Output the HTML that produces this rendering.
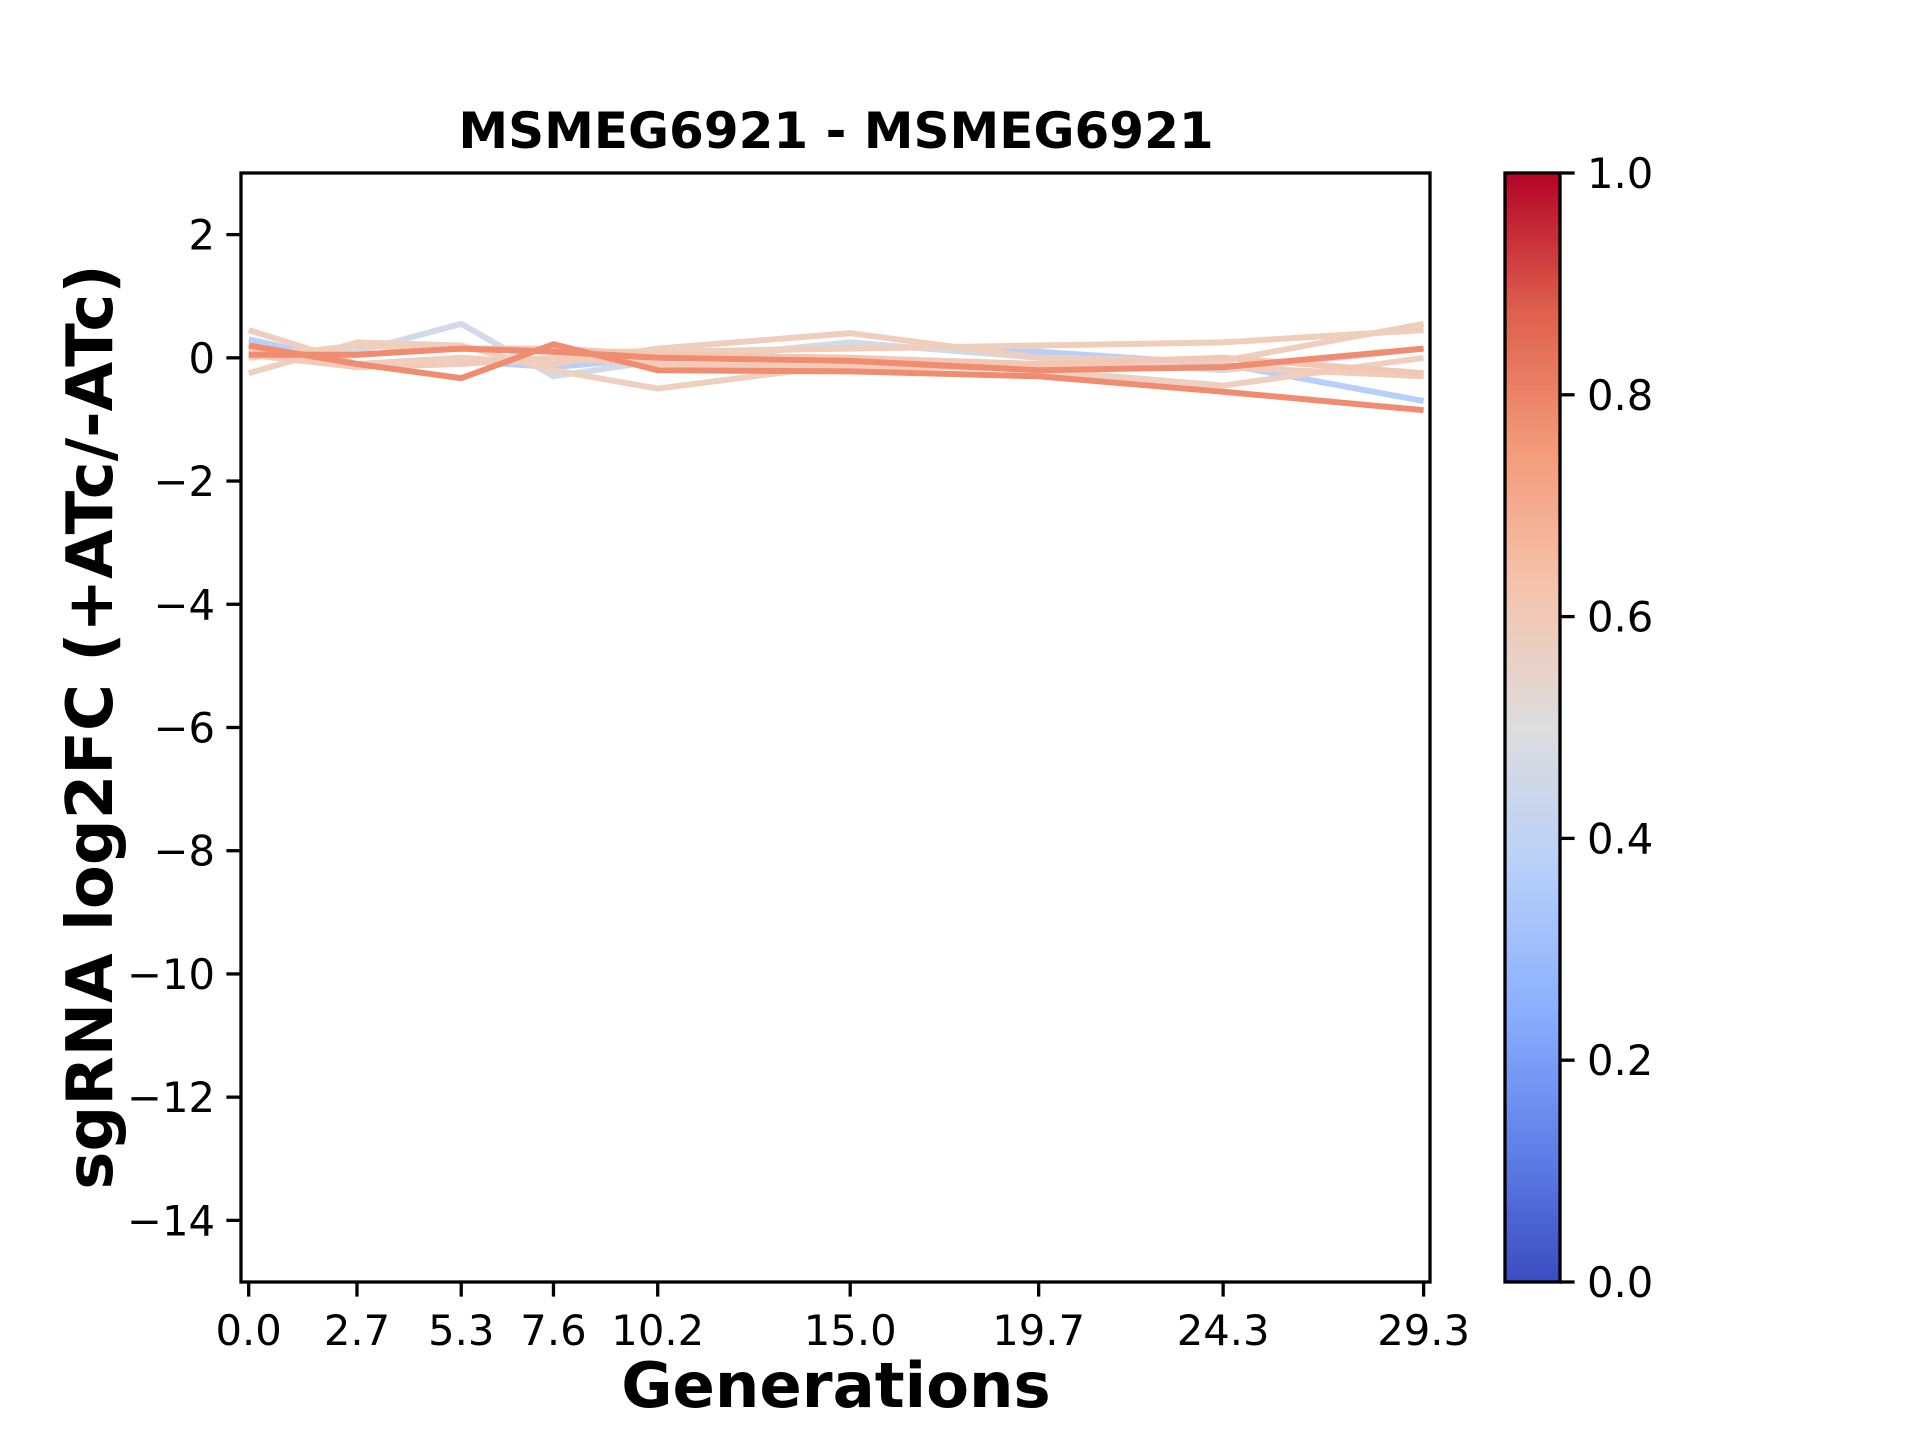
<!DOCTYPE html>
<html><head><meta charset="utf-8"><style>html,body{margin:0;padding:0;background:#fff}svg{display:block}</style></head>
<body>
<svg id="s" width="1920" height="1440" viewBox="0 0 1920 1440" xmlns="http://www.w3.org/2000/svg" font-family="DejaVu Sans, Liberation Sans, sans-serif">
<defs>
<linearGradient id="cw" x1="0" y1="1" x2="0" y2="0">
<stop offset="0" stop-color="rgb(59,76,192)"/>
<stop offset="0.125" stop-color="rgb(98,130,234)"/>
<stop offset="0.25" stop-color="rgb(141,176,254)"/>
<stop offset="0.375" stop-color="rgb(184,208,249)"/>
<stop offset="0.5" stop-color="rgb(221,221,221)"/>
<stop offset="0.625" stop-color="rgb(245,196,173)"/>
<stop offset="0.75" stop-color="rgb(244,154,123)"/>
<stop offset="0.875" stop-color="rgb(222,96,77)"/>
<stop offset="1" stop-color="rgb(180,4,38)"/>
</linearGradient>
<clipPath id="ax"><rect x="241" y="173" width="1189" height="1109"/></clipPath>
</defs>
<g id="lines" clip-path="url(#ax)" fill="none" stroke-width="6" stroke-linejoin="miter"></g>
<rect x="241" y="173" width="1189" height="1109" fill="none" stroke="#000" stroke-width="3.3"/>
<g id="ticks" stroke="#000" stroke-width="3.3"></g>
<g id="labels" font-size="41.7" fill="#000"></g>
<rect x="1505" y="173" width="55" height="1109" fill="url(#cw)" stroke="#000" stroke-width="3.3"/>
<text x="836" y="148" font-size="50" font-weight="bold" text-anchor="middle">MSMEG6921 - MSMEG6921</text>
<text x="836" y="1407" font-size="62.5" font-weight="bold" text-anchor="middle">Generations</text>
<text transform="translate(112,727) rotate(-90)" font-size="64" font-weight="bold" text-anchor="middle">sgRNA log2FC (+ATc/-ATc)</text>
</svg>
<script>
const NS="http://www.w3.org/2000/svg";
const G=[0,2.7,5.3,7.6,10.2,15.0,19.7,24.3,29.3];
const X=g=>248.7+40.1*g, Y=v=>173+61.61*(3-v);
function el(p,t,a,txt){const e=document.createElementNS(NS,t);for(const k in a)e.setAttribute(k,a[k]);if(txt!==undefined)e.textContent=txt;p.appendChild(e);return e;}
const S=[
 ["rgb(184,208,249)",[0.3,-0.1,-0.05,-0.15,0.0,0.2,0.1,-0.1,-0.7]],
 ["rgb(210,218,232)",[0.1,0.1,0.55,-0.3,-0.05,0.25,0.0,-0.2,0.15]],
 ["rgb(239,206,190)",[0.45,-0.1,0.0,-0.1,0.15,0.4,0.0,-0.05,0.55]],
 ["rgb(239,208,192)",[-0.25,0.25,0.2,-0.2,-0.5,-0.1,-0.2,-0.45,0.0]],
 ["rgb(240,206,188)",[0.0,0.2,0.15,0.1,0.1,0.15,0.2,0.25,0.45]],
 ["rgb(241,204,186)",[0.05,-0.15,-0.1,0.0,-0.1,-0.15,-0.15,-0.15,-0.3]],
 ["rgb(242,200,180)",[0.1,0.05,0.15,0.15,0.05,0.0,-0.1,0.0,-0.25]],
 ["rgb(240,140,112)",[0.2,-0.1,-0.33,0.22,-0.2,-0.22,-0.3,-0.55,-0.85]],
 ["rgb(240,140,112)",[0.05,0.05,0.15,0.1,0.0,-0.05,-0.2,-0.15,0.15]]
];
const L=document.getElementById("lines");
S.forEach(([c,v])=>el(L,"polyline",{stroke:c,points:v.map((y,i)=>X(G[i]).toFixed(1)+","+Y(y).toFixed(1)).join(" ")}));
const T=document.getElementById("ticks"),B=document.getElementById("labels");
const lab=["0.0","2.7","5.3","7.6","10.2","15.0","19.7","24.3","29.3"];
G.forEach((g,i)=>{const x=X(g);el(T,"line",{x1:x,x2:x,y1:1282,y2:1296.6});el(B,"text",{x:x,y:1345,"text-anchor":"middle"},lab[i]);});
for(let v=2;v>=-14;v-=2){const y=Y(v);el(T,"line",{x1:226.4,x2:241,y1:y,y2:y});el(B,"text",{x:215,y:y+15,"text-anchor":"end"},(v<0?"\u2212":"")+Math.abs(v));}
for(let i=0;i<=5;i++){const v=i*0.2,y=1282-v*1109;el(T,"line",{x1:1560,x2:1574.6,y1:y,y2:y});el(B,"text",{x:1587,y:y+15},v.toFixed(1));}
</script>
</body></html>
